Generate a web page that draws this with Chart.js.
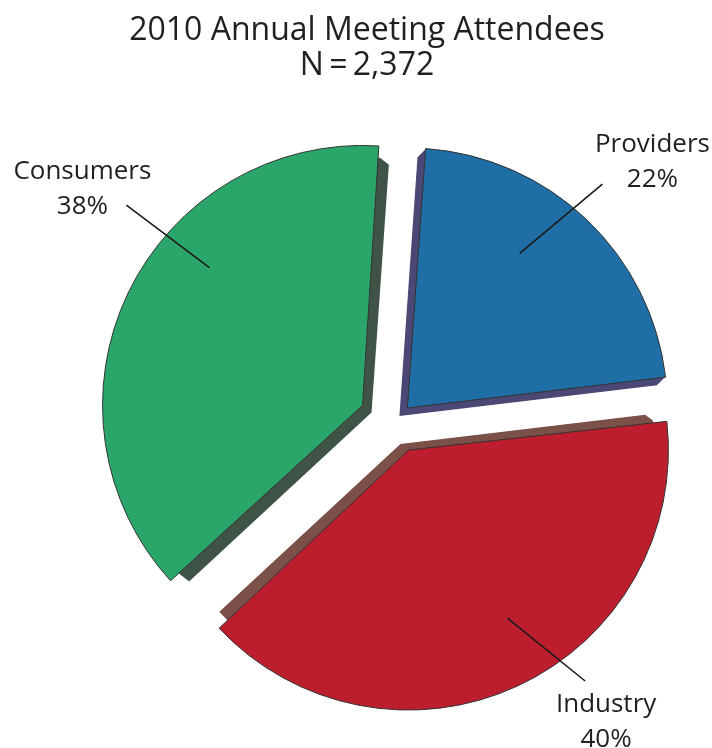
<!DOCTYPE html>
<html lang="en">
<head>
  <meta charset="UTF-8">
  <title>2010 Annual Meeting Attendees</title>
  <script src="https://cdn.jsdelivr.net/npm/chart.js"></script>
  <style>
    html, body {
      margin: 0;
      padding: 0;
      background: #fff;
    }
    #chartBox {
      width: 712px;
      height: 748px;
    }
  </style>
</head>
<body>
  <div id="chartBox">
    <canvas id="attendeesPie" width="712" height="748"></canvas>
  </div>
  <script>
    // data
    const titleLines = ['2010 Annual Meeting Attendees', 'N\u2009=\u20092,372'];
    const categories = ['Providers', 'Industry', 'Consumers'];
    const shares = [22, 40, 38];
    const percentLabels = ['22%', '40%', '38%'];

    // styles
    const faceColors = ['#1f6ea6', '#bc1e2e', '#2ba66a'];
    const sideColors = ['#4b4876', '#7a5049', '#3f5447'];

    const FONT = '"Open Sans", "Noto Sans", "DejaVu Sans", sans-serif';

    // Chart.js grows the radius of an exploded slice (offset * fix);
    // take that back so every slice keeps the same radius
    const radiusFix = {
      id: 'radiusFix',
      afterDatasetUpdate(chart, args) {
        args.meta.data.forEach(arc => {
          const off = (arc.options.offset || 0) / 4;
          const fix = 1 - Math.sin(Math.min(Math.PI, arc.circumference || 0));
          arc.outerRadius = Math.max(arc.outerRadius - off * fix, 0);
        });
      }
    };

    // same shift that ArcElement.draw applies for options.offset
    function sliceShift(arc) {
      const p = arc.getProps(['startAngle', 'endAngle'], true);
      const off = (arc.options.offset || 0) / 4;
      const half = (p.startAngle + p.endAngle) / 2;
      return { dx: Math.cos(half) * off, dy: Math.sin(half) * off };
    }

    // thick "3D" side of each exploded slice
    const sidePlugin = {
      id: 'sides',
      beforeDatasetsDraw(chart, args, opts) {
        const ctx = chart.ctx;
        chart.getDatasetMeta(0).data.forEach((arc, i) => {
          const p = arc.getProps(['x', 'y', 'startAngle', 'endAngle', 'outerRadius'], true);
          const s = sliceShift(arc);
          const [ex, ey] = opts.depth[i];
          ctx.save();
          ctx.fillStyle = sideColors[i];
          for (let t = 1; t <= 12; t++) {
            const k = t / 12;
            const cx = p.x + s.dx + ex * k;
            const cy = p.y + s.dy + ey * k;
            ctx.beginPath();
            ctx.moveTo(cx, cy);
            ctx.arc(cx, cy, p.outerRadius, p.startAngle, p.endAngle);
            ctx.closePath();
            ctx.fill();
          }
          ctx.restore();
        });
      }
    };

    // leader lines + category / percent text
    const labelPlugin = {
      id: 'sliceLabels',
      afterDatasetsDraw(chart, args, opts) {
        const ctx = chart.ctx;
        const rad = Math.PI / 180;
        chart.getDatasetMeta(0).data.forEach((arc, i) => {
          const p = arc.getProps(['x', 'y'], true);
          const s = sliceShift(arc);
          const cfg = opts.items[i];
          const ix = p.x + s.dx + cfg.r * Math.cos(cfg.a * rad);
          const iy = p.y + s.dy + cfg.r * Math.sin(cfg.a * rad);
          const ox = ix + cfg.len * Math.cos(cfg.la * rad);
          const oy = iy + cfg.len * Math.sin(cfg.la * rad);
          ctx.save();
          ctx.strokeStyle = '#1a1a1a';
          ctx.lineWidth = 1.6;
          ctx.beginPath();
          ctx.moveTo(ix, iy);
          ctx.lineTo(ox, oy);
          ctx.stroke();
          ctx.fillStyle = '#231f20';
          ctx.font = '26px ' + FONT;
          ctx.textAlign = 'center';
          ctx.textBaseline = 'middle';
          ctx.fillText(categories[i], ox + cfg.tx, oy + cfg.ty);
          ctx.fillText(percentLabels[i], ox + cfg.tx, oy + cfg.ty + 35);
          ctx.restore();
        });
      }
    };

    const titlePlugin = {
      id: 'twoLineTitle',
      afterDraw(chart, args, opts) {
        const ctx = chart.ctx;
        ctx.save();
        ctx.fillStyle = '#231f20';
        ctx.font = '32px ' + FONT;
        ctx.textAlign = 'center';
        ctx.textBaseline = 'middle';
        titleLines.forEach((line, i) => {
          ctx.fillText(line, opts.x, opts.y + i * opts.gap);
        });
        ctx.restore();
      }
    };

    const ctx = document.getElementById('attendeesPie').getContext('2d');
    new Chart(ctx, {
      type: 'pie',
      data: {
        labels: categories,
        datasets: [{
          data: shares,
          backgroundColor: faceColors,
          borderColor: '#333',
          borderWidth: 1,
          offset: [72, 128, 144],
          clip: false
        }]
      },
      options: {
        responsive: false,
        animation: false,
        events: [],
        rotation: 4,
        radius: 260,
        layout: {
          padding: { left: 78, right: 0, top: 94, bottom: 0 }
        },
        plugins: {
          legend: { display: false },
          tooltip: { enabled: false },
          title: { display: false },
          twoLineTitle: { x: 367, y: 31, gap: 35 },
          sides: {
            depth: [[-8, 8], [-8, -6], [9, 7]]
          },
          sliceLabels: {
            items: [
              { a: -54, r: 191, la: -40, len: 108, tx: 50, ty: -39 },
              { a: 59.5, r: 195, la: 39, len: 100, tx: 21, ty: 24 },
              { a: 222, r: 206, la: 217, len: 104, tx: -44, ty: -33 }
            ]
          }
        }
      },
      plugins: [radiusFix, sidePlugin, labelPlugin, titlePlugin]
    });
  </script>
</body>
</html>
